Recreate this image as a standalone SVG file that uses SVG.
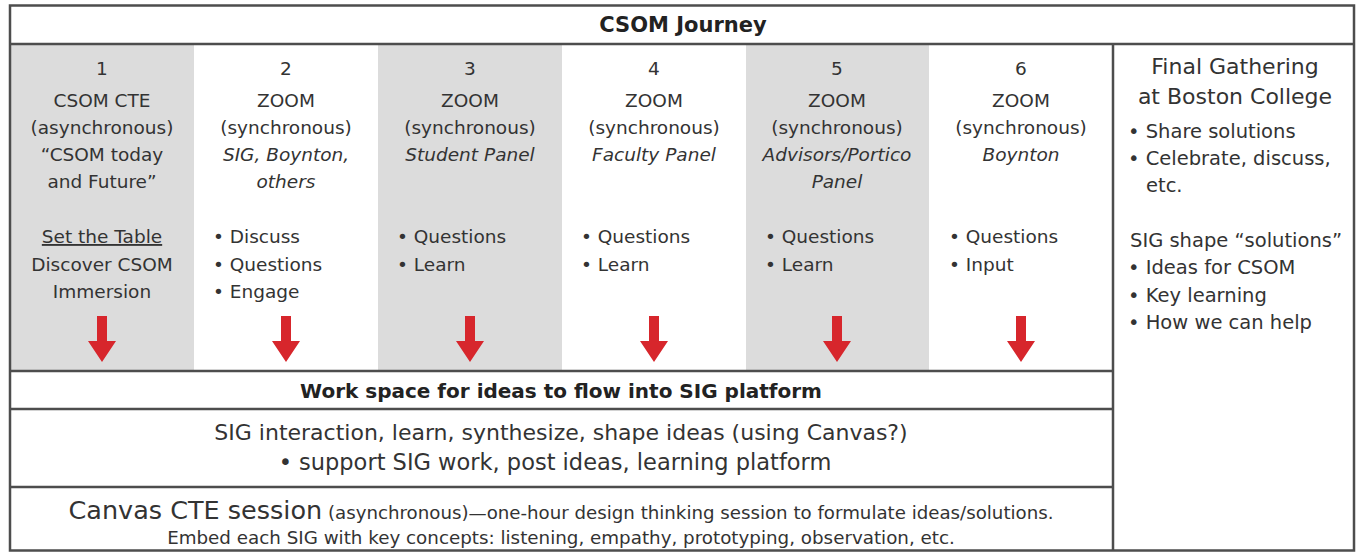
<svg xmlns="http://www.w3.org/2000/svg" width="1357" height="554" viewBox="0 0 1357 554">
<style>
text{font-family:"DejaVu Sans","Liberation Sans",sans-serif;fill:#333}
.c{font-size:18.5px;text-anchor:middle}
.b{font-size:18.5px}
.it{font-style:italic}
.h{font-size:21px;font-weight:bold;text-anchor:middle;fill:#222}
.r{font-size:19.5px}
.rh{font-size:22px;text-anchor:middle}
.ln{stroke:#4d4d4d;stroke-width:2.5;fill:none}
.g{fill:#dcdcdc}
.arr{fill:#d7262c}
</style>
<defs>
<path id="arrow" d="M-5,316 h10 v25 h9 l-14,21 l-14,-21 h9 z"/>
</defs>
<rect x="0" y="0" width="1357" height="554" fill="#fff"/>
<g id="backgrounds">
<rect class="g" x="11" y="45" width="183" height="325"/>
<rect class="g" x="378" y="45" width="184" height="325"/>
<rect class="g" x="746" y="45" width="183" height="325"/>
</g>
<g id="frame">
<rect class="ln" x="10" y="5.5" width="1344" height="545"/>
<line class="ln" x1="10" y1="44" x2="1354" y2="44"/>
<line class="ln" x1="1113" y1="44" x2="1113" y2="551"/>
<line class="ln" x1="10" y1="371" x2="1113" y2="371"/>
<line class="ln" x1="10" y1="409" x2="1113" y2="409"/>
<line class="ln" x1="10" y1="487" x2="1113" y2="487"/>
</g>
<g id="title"><text class="h" x="683" y="32">CSOM Journey</text></g>
<g id="step1">
<text class="c" x="102" y="75">1</text>
<text class="c" x="102" y="107">CSOM CTE</text>
<text class="c" x="102" y="134">(asynchronous)</text>
<text class="c" x="102" y="161">“CSOM today</text>
<text class="c" x="102" y="188">and Future”</text>
<text class="c" x="102" y="243" text-decoration="underline">Set the Table</text>
<text class="c" x="102" y="271">Discover CSOM</text>
<text class="c" x="102" y="298">Immersion</text>
</g>
<g id="step2">
<text class="c" x="286" y="75">2</text>
<text class="c" x="286" y="107">ZOOM</text>
<text class="c" x="286" y="134">(synchronous)</text>
<text class="c it" x="286" y="161">SIG, Boynton,</text>
<text class="c it" x="286" y="188">others</text>
<text class="b" x="213" y="243">• Discuss</text>
<text class="b" x="213" y="271">• Questions</text>
<text class="b" x="213" y="298">• Engage</text>
</g>
<g id="step3">
<text class="c" x="470" y="75">3</text>
<text class="c" x="470" y="107">ZOOM</text>
<text class="c" x="470" y="134">(synchronous)</text>
<text class="c it" x="470" y="161">Student Panel</text>
<text class="b" x="397" y="243">• Questions</text>
<text class="b" x="397" y="271">• Learn</text>
</g>
<g id="step4">
<text class="c" x="654" y="75">4</text>
<text class="c" x="654" y="107">ZOOM</text>
<text class="c" x="654" y="134">(synchronous)</text>
<text class="c it" x="654" y="161">Faculty Panel</text>
<text class="b" x="581" y="243">• Questions</text>
<text class="b" x="581" y="271">• Learn</text>
</g>
<g id="step5">
<text class="c" x="837" y="75">5</text>
<text class="c" x="837" y="107">ZOOM</text>
<text class="c" x="837" y="134">(synchronous)</text>
<text class="c it" x="837" y="161">Advisors/Portico</text>
<text class="c it" x="837" y="188">Panel</text>
<text class="b" x="765" y="243">• Questions</text>
<text class="b" x="765" y="271">• Learn</text>
</g>
<g id="step6">
<text class="c" x="1021" y="75">6</text>
<text class="c" x="1021" y="107">ZOOM</text>
<text class="c" x="1021" y="134">(synchronous)</text>
<text class="c it" x="1021" y="161">Boynton</text>
<text class="b" x="949" y="243">• Questions</text>
<text class="b" x="949" y="271">• Input</text>
</g>
<g id="final">
<text class="rh" x="1235" y="74">Final Gathering</text>
<text class="rh" x="1235" y="104">at Boston College</text>
<text class="r" x="1128" y="138">• Share solutions</text>
<text class="r" x="1128" y="165">• Celebrate, discuss,</text>
<text class="r" x="1146" y="192">etc.</text>
<text class="r" x="1130" y="247">SIG shape “solutions”</text>
<text class="r" x="1128" y="274">• Ideas for CSOM</text>
<text class="r" x="1128" y="302">• Key learning</text>
<text class="r" x="1128" y="329">• How we can help</text>
</g>
<g id="workspace"><text class="h" x="561" y="398" style="font-size:20px">Work space for ideas to flow into SIG platform</text></g>
<g id="sig">
<text x="561" y="440" style="font-size:22px;text-anchor:middle">SIG interaction, learn, synthesize, shape ideas (using Canvas?)</text>
<text x="555" y="470" style="font-size:22.5px;text-anchor:middle">• support SIG work, post ideas, learning platform</text>
</g>
<g id="canvas">
<text x="561" y="519" style="text-anchor:middle"><tspan style="font-size:25.5px">Canvas CTE session</tspan><tspan style="font-size:18.2px"> (asynchronous)—one-hour design thinking session to formulate ideas/solutions.</tspan></text>
<text x="561" y="544" style="font-size:18.3px;text-anchor:middle">Embed each SIG with key concepts: listening, empathy, prototyping, observation, etc.</text>
</g>
<g id="connectors" class="arr">
<use href="#arrow" x="102"/>
<use href="#arrow" x="286"/>
<use href="#arrow" x="470"/>
<use href="#arrow" x="654"/>
<use href="#arrow" x="837"/>
<use href="#arrow" x="1021"/>
</g>
</svg>
